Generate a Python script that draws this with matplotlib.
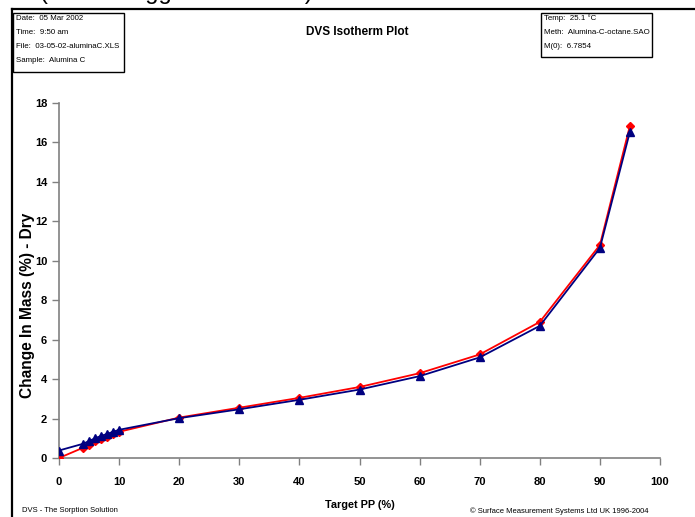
import numpy as np
import matplotlib
matplotlib.use('Agg')
import matplotlib.pyplot as plt
from matplotlib.lines import Line2D
from matplotlib.patches import Rectangle

plt.rcParams['font.family'] = ['Liberation Sans', 'DejaVu Sans']

# target partial pressure (%)
target_pp = [0, 4, 5, 6, 7, 8, 9, 10, 20, 30, 40, 50, 60, 70, 80, 90, 95]
# change in mass (%) - dry
sorption = [0.0, 0.52, 0.68, 0.84, 0.97, 1.08, 1.2, 1.33, 2.05, 2.55, 3.05, 3.6, 4.3, 5.25, 6.9, 10.8, 16.85]
desorption = [0.38, 0.72, 0.86, 1.0, 1.12, 1.22, 1.33, 1.43, 2.02, 2.47, 2.95, 3.47, 4.15, 5.1, 6.7, 10.65, 16.55]

xticks = [0, 10, 20, 30, 40, 50, 60, 70, 80, 90, 100]
yticks = [0, 2, 4, 6, 8, 10, 12, 14, 16, 18]

info_left = ['Date:  05 Mar 2002', 'Time:  9:50 am', 'File:  03-05-02-aluminaC.XLS', 'Sample:  Alumina C']
info_right = ['Temp:  25.1 \u00b0C', 'Meth:  Alumina-C-octane.SAO', 'M(0):  6.7854']

W, H = 695, 517
fig = plt.figure(figsize=(6.95, 5.17), dpi=100)

def fx(px):
    return px / W

def fy(py):
    return 1 - py / H

ax = fig.add_axes([fx(59), fy(458), fx(660) - fx(59), fy(103) - fy(458)])

ax.plot(target_pp, sorption, color='#ff0000', lw=1.3, marker='D', ms=4, mec='#ff0000', mfc='#ff0000', zorder=3)
ax.plot(target_pp, desorption, color='#000080', lw=1.3, marker='^', ms=5.5, mec='#000080', mfc='#000080', zorder=4)

ax.set_xlim(0, 100)
ax.set_ylim(0, 18)
ax.set_xticks(xticks)
ax.set_yticks(yticks)
for s in ['top', 'right']:
    ax.spines[s].set_visible(False)
for s in ['left', 'bottom']:
    ax.spines[s].set_color('#808080')
    ax.spines[s].set_linewidth(1.2)
ax.tick_params(colors='#808080', length=5, width=1, labelcolor='black', labelsize=8)
ax.tick_params(axis='x', pad=9)
for lab in ax.get_xticklabels() + ax.get_yticklabels():
    lab.set_fontweight('bold')

ax.set_xlabel('Target PP (%)', fontsize=7.8, fontweight='bold', labelpad=9)
ax.set_ylabel('Change In Mass (%) - Dry', fontsize=11.2, fontweight='bold', va='center')
ax.yaxis.set_label_coords((28 - 59) / 601, (458 - 305) / 355)

# title and info boxes
fig.text(fx(357), fy(32), 'DVS Isotherm Plot', ha='center', va='center', fontsize=8.5, fontweight='bold')

fig.patches.append(Rectangle((fx(13), fy(72)), fx(124) - fx(13), fy(13) - fy(72),
                             transform=fig.transFigure, fill=False, ec='black', lw=1))
for i, t in enumerate(info_left):
    fig.text(fx(16), fy(18 + 14 * i), t, ha='left', va='center', fontsize=5.7)

fig.patches.append(Rectangle((fx(541), fy(57)), fx(652) - fx(541), fy(13) - fy(57),
                             transform=fig.transFigure, fill=False, ec='black', lw=1))
for i, t in enumerate(info_right):
    fig.text(fx(544), fy(18 + 14 * i), t, ha='left', va='center', fontsize=5.7)

# outer frame
fig.lines.append(Line2D([fx(12), 1.0], [fy(8.5), fy(8.5)], transform=fig.transFigure, color='black', lw=1.6))
fig.lines.append(Line2D([fx(12), fx(12)], [fy(8.5), 0.0], transform=fig.transFigure, color='black', lw=1.6))

# clipped heading above the frame (only its descenders show)
fig.text(fx(40), fy(-1), '(Data Exaggerated Scale)', ha='left', va='baseline', fontsize=17)

# footer
fig.text(fx(22), fy(511), 'DVS - The Sorption Solution', ha='left', va='center', fontsize=5.5)
fig.text(fx(649), fy(511), '\u00a9 Surface Measurement Systems Ltd UK 1996-2004', ha='right', va='center', fontsize=5.5)

fig.savefig('out.png', dpi=100)
